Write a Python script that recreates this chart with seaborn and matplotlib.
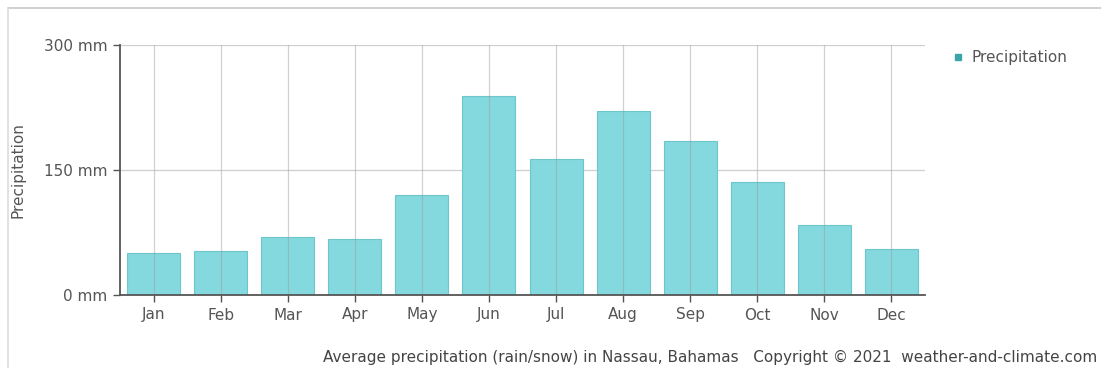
import matplotlib
matplotlib.use("Agg")
import matplotlib.pyplot as plt
import seaborn as sns
import pandas as pd
from matplotlib.lines import Line2D

months = ["Jan", "Feb", "Mar", "Apr", "May", "Jun",
          "Jul", "Aug", "Sep", "Oct", "Nov", "Dec"]
precip_mm = [50, 53, 69, 67, 120, 238, 163, 220, 184, 135, 84, 55]
y_ticks = [0, 150, 300]
y_tick_labels = ["0 mm", "150 mm", "300 mm"]

sns.set_theme(style="white")
plt.rcParams["font.family"] = ["DejaVu Sans"]

df = pd.DataFrame({"Month": months, "Precipitation": precip_mm})

fig = plt.figure(figsize=(11.01, 3.68), dpi=100)
ax = fig.add_axes([120 / 1101, 73 / 368, 805 / 1101, 250.3 / 368])

text_col = "#555555"
grid_col = "#cfcfcf"
fs = 11

sns.barplot(data=df, x="Month", y="Precipitation", ax=ax,
            color="#84d9de", edgecolor="#6cc6cc", linewidth=0.8,
            width=0.79, saturation=1, zorder=2)

ax.set_ylim(0, 300)
ax.set_xlim(-0.5, len(months) - 0.5)
ax.set_yticks(y_ticks)
ax.set_yticklabels(y_tick_labels)

# vertical grid through category centres (visible over the bars),
# horizontal grid at the tick values
for i in range(len(months)):
    ax.axvline(i, color="#9a9a9a", lw=0.9, zorder=3, alpha=0.45)
for v in y_ticks[1:]:
    ax.axhline(v, color=grid_col, lw=0.9, zorder=1)

for side in ("top", "right"):
    ax.spines[side].set_visible(False)
ax.spines["left"].set_color("#555555")
ax.spines["left"].set_linewidth(1.3)
ax.spines["bottom"].set_color("#555555")
ax.spines["bottom"].set_linewidth(1.3)
ax.spines["bottom"].set_zorder(4)

ax.tick_params(axis="both", which="both", direction="out", length=5,
               width=1, color="#555555", labelcolor=text_col,
               labelsize=fs, pad=4, left=True, bottom=True)
ax.set_xlabel("")
ax.set_ylabel("Precipitation", color=text_col, fontsize=fs)
ax.yaxis.set_label_coords(-0.118, 0.5)

# legend
handle = Line2D([0], [0], marker="s", color="none", markerfacecolor="#3aa5a8",
                markeredgecolor="#3aa5a8", markersize=4.5)
fig.legend([handle], ["Precipitation"], loc="upper left",
           bbox_to_anchor=(946 / 1101, 1 - 44 / 368), frameon=False,
           fontsize=fs, labelcolor=text_col, handlelength=0.8,
           handletextpad=0.5, borderaxespad=0)

# caption
fig.text(1097 / 1101, 1 - 357 / 368,
         "Average precipitation (rain/snow) in Nassau, Bahamas   "
         "Copyright \u00a9 2021  weather-and-climate.com",
         ha="right", va="center", fontsize=fs, color="#444444")

# outer frame
fig.add_artist(Line2D([8 / 1101, 1], [1 - 8 / 368, 1 - 8 / 368],
                      transform=fig.transFigure, color="#c8c8c8", lw=1.2))
fig.add_artist(Line2D([8 / 1101, 8 / 1101], [0, 1 - 8 / 368],
                      transform=fig.transFigure, color="#dcdcdc", lw=1.2))

fig.savefig("out.png", dpi=100, facecolor="white")
